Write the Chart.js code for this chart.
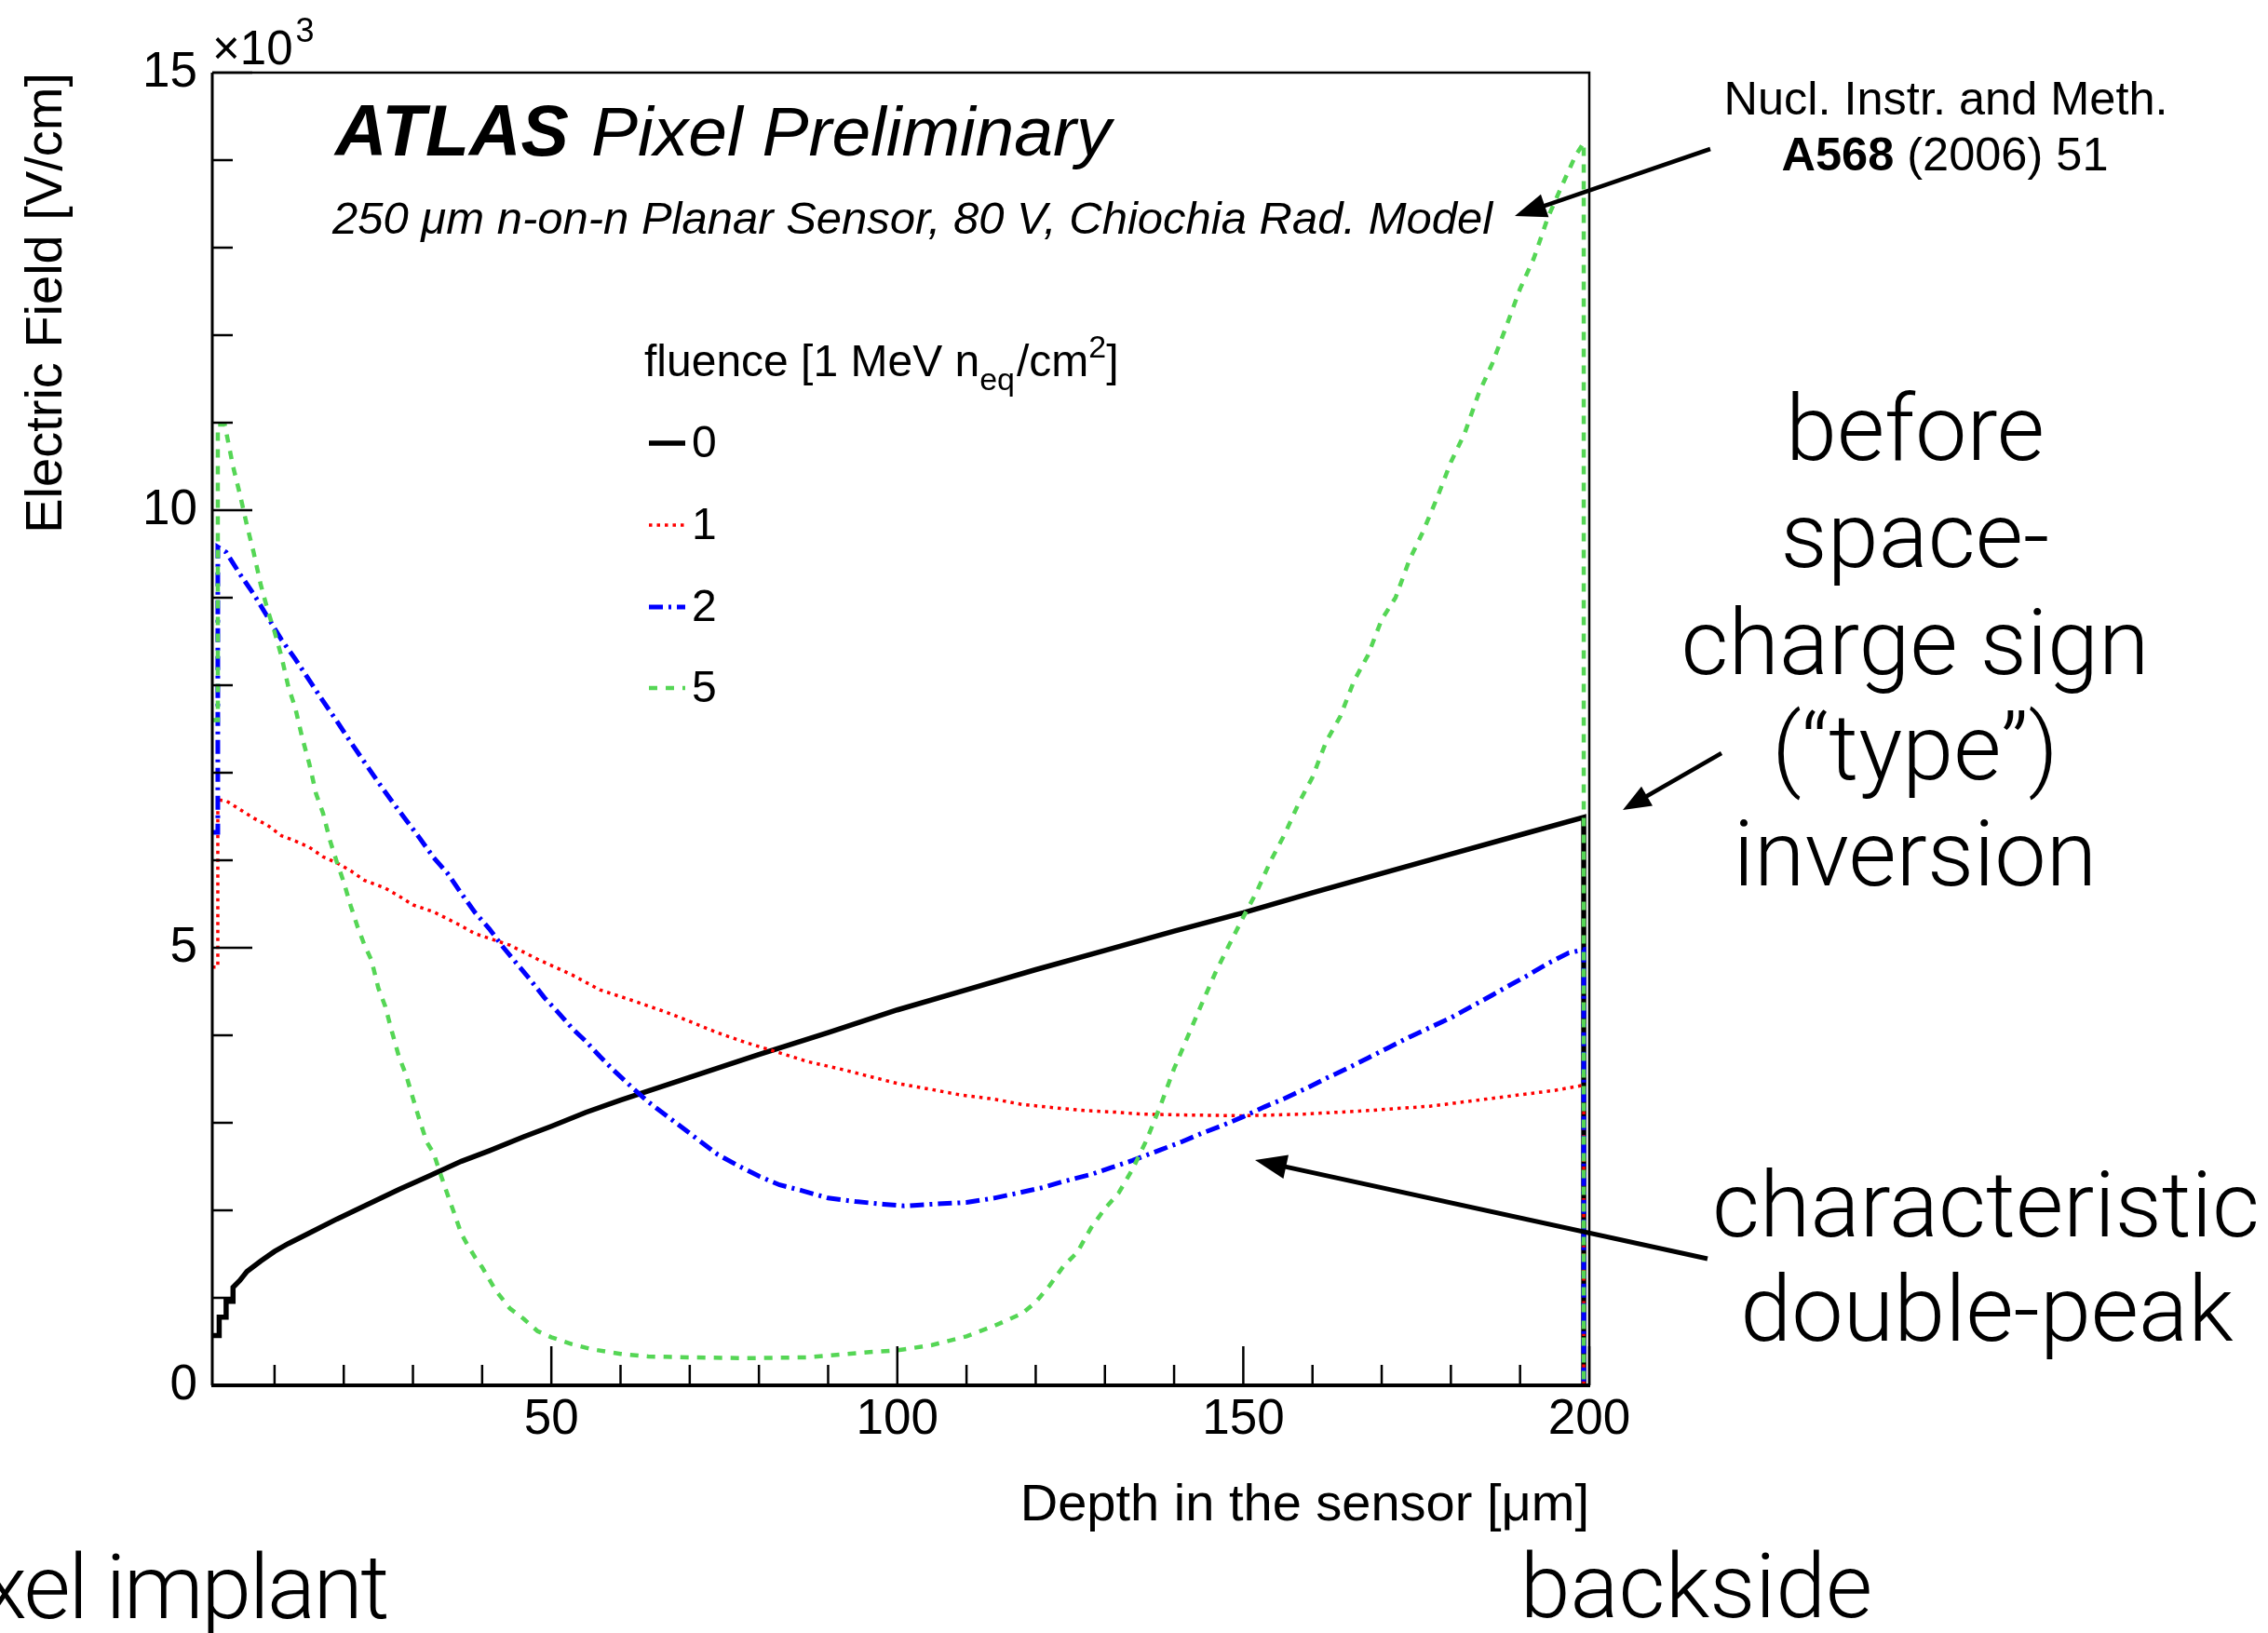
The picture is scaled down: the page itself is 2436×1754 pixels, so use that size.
<!DOCTYPE html>
<html>
<head>
<meta charset="utf-8">
<script src="https://cdn.jsdelivr.net/npm/chart.js@4.4.1/dist/chart.umd.min.js"></script>
<style>
  html, body { margin: 0; padding: 0; background: #fff; }
  canvas { display: block; }
</style>
</head>
<body>
<canvas id="efield" width="2436" height="1754"></canvas>
<script>
// depth in the sensor [um] vs electric field [10^3 V/cm]
const depth0 = [1, 2, 2, 3, 3, 4, 4, 5, 6, 8, 10, 12, 15, 19, 23, 28, 32, 37, 41, 46, 50, 55, 60, 65, 70, 80, 90, 100, 110, 120, 130, 140, 150, 160, 170, 180, 190, 199.2, 199.2];
const field0 = [0.57, 0.57, 0.78, 0.78, 0.96, 0.96, 1.12, 1.20, 1.30, 1.42, 1.53, 1.62, 1.74, 1.90, 2.05, 2.24, 2.38, 2.56, 2.68, 2.84, 2.96, 3.12, 3.26, 3.39, 3.52, 3.78, 4.03, 4.29, 4.52, 4.75, 4.97, 5.19, 5.40, 5.63, 5.85, 6.07, 6.29, 6.49, 0];

const depth1 = [1, 1.8, 1.8, 3, 5, 7, 9, 11, 13, 15, 17, 19, 21, 23, 26, 28, 30, 33, 35, 37, 39, 44, 48, 53, 57, 62, 66, 69, 74, 78, 83, 87, 92, 96, 100, 105, 109, 114, 118, 123, 127, 132, 135, 141, 150, 159, 168, 177, 186, 195, 199.2, 199.2];
const field1 = [4.78, 4.78, 6.69, 6.68, 6.58, 6.48, 6.40, 6.28, 6.22, 6.15, 6.04, 5.97, 5.88, 5.77, 5.68, 5.59, 5.49, 5.41, 5.33, 5.25, 5.16, 5.03, 4.87, 4.69, 4.52, 4.39, 4.28, 4.19, 4.03, 3.92, 3.80, 3.70, 3.61, 3.53, 3.45, 3.38, 3.32, 3.27, 3.21, 3.17, 3.14, 3.12, 3.10, 3.09, 3.08, 3.10, 3.14, 3.19, 3.28, 3.37, 3.43, 0];

const depth2 = [1, 1.8, 1.8, 3, 5, 7, 9, 11, 13, 15, 17, 19, 21, 23, 25, 27, 29, 31, 33, 35, 37, 39, 41, 43, 45, 47, 49, 51, 53, 55, 57, 59, 62, 64, 67, 70, 74, 77, 80, 83, 86, 90, 94, 98, 101, 105, 110, 114, 117, 121, 124, 128, 131, 134, 138, 141, 144, 147, 150, 153, 156, 159, 162, 165, 168, 171, 174, 177, 180, 183, 186, 188, 191, 194, 197, 199.2, 199.2];
const field2 = [6.32, 6.32, 9.58, 9.52, 9.27, 9.04, 8.78, 8.52, 8.30, 8.06, 7.82, 7.59, 7.35, 7.12, 6.89, 6.67, 6.46, 6.25, 6.03, 5.85, 5.62, 5.40, 5.22, 5.01, 4.82, 4.63, 4.43, 4.26, 4.08, 3.93, 3.76, 3.60, 3.38, 3.24, 3.06, 2.88, 2.64, 2.51, 2.39, 2.29, 2.23, 2.14, 2.10, 2.07, 2.05, 2.07, 2.09, 2.14, 2.19, 2.26, 2.33, 2.41, 2.49, 2.57, 2.69, 2.78, 2.88, 2.97, 3.07, 3.18, 3.28, 3.39, 3.51, 3.62, 3.74, 3.86, 3.98, 4.09, 4.20, 4.33, 4.46, 4.55, 4.68, 4.82, 4.94, 4.98, 0];

const depth5 = [1, 1.8, 1.8, 2.8, 4, 5, 6, 7, 8, 9, 10, 11, 12, 13, 14, 15, 16, 17, 18, 19, 20, 21, 22, 23, 24, 25, 26, 27, 28, 29, 30, 31, 32, 33, 34, 35, 36, 37, 38, 39, 40, 42, 44, 46, 48, 50, 53, 56, 60, 64, 70, 78, 87, 96, 100, 105, 110, 114, 118, 120, 122, 124, 126, 128, 130, 132, 134, 136, 138, 140, 142, 144, 146, 148, 150, 152, 154, 156, 158, 160, 162, 164, 166, 168, 170, 172, 174, 176, 178, 180, 182, 184, 186, 188, 190, 192, 194, 196, 198, 199.2, 199.2];
const field5 = [7.60, 7.60, 10.98, 10.98, 10.50, 10.18, 9.83, 9.51, 9.15, 8.86, 8.61, 8.33, 7.98, 7.74, 7.40, 7.11, 6.76, 6.54, 6.23, 5.98, 5.75, 5.48, 5.24, 5.03, 4.86, 4.54, 4.33, 4.03, 3.75, 3.55, 3.28, 3.02, 2.78, 2.65, 2.41, 2.18, 1.96, 1.73, 1.59, 1.46, 1.35, 1.08, 0.88, 0.76, 0.62, 0.55, 0.47, 0.41, 0.36, 0.33, 0.32, 0.31, 0.32, 0.38, 0.40, 0.46, 0.56, 0.68, 0.82, 0.95, 1.14, 1.36, 1.52, 1.80, 2.02, 2.20, 2.47, 2.80, 3.19, 3.62, 3.99, 4.36, 4.72, 5.04, 5.35, 5.65, 6.00, 6.30, 6.65, 6.95, 7.36, 7.64, 8.05, 8.34, 8.75, 9.00, 9.43, 9.76, 10.14, 10.55, 10.88, 11.33, 11.68, 12.10, 12.53, 12.88, 13.34, 13.70, 14.05, 14.20, 0];

const fluenceLabels = ['0', '1', '2', '5'];

// axis ticks (ROOT style: minor every 10 um / 1 kV, labels on the majors)
const xTicks = [10, 20, 30, 40, 50, 60, 70, 80, 90, 100, 110, 120, 130, 140, 150, 160, 170, 180, 190, 200];
const xLabeled = [50, 100, 150, 200];
const yTicks = [0, 1, 2, 3, 4, 5, 6, 7, 8, 9, 10, 11, 12, 13, 14, 15];
const yLabeled = [0, 5, 10, 15];

const FONT = "'Liberation Sans', Arial, Helvetica, sans-serif";
const BIG = "300 99px Roboto, 'Liberation Sans', sans-serif";
const BIG_LOW = "300 97px Roboto, 'Liberation Sans', sans-serif";

Chart.defaults.font.family = FONT;
Chart.defaults.color = '#000';

const styles = [
    { color: '#000000', width: 5.5, dash: [] },
    { color: '#ff0000', width: 3.5, dash: [3.5, 5] },
    { color: '#0000ff', width: 5, dash: [15, 6, 3, 6] },
    { color: '#55d655', width: 4.5, dash: [9, 9] }
];

function pts(xs, ys) {
    return xs.map((x, i) => ({ x: x, y: ys[i] }));
}

const seriesData = [pts(depth0, field0), pts(depth1, field1), pts(depth2, field2), pts(depth5, field5)];

const datasets = seriesData.map((d, i) => ({
    label: fluenceLabels[i],
    data: d,
    showLine: true,
    fill: false,
    tension: 0,
    pointRadius: 0,
    borderColor: styles[i].color,
    borderWidth: styles[i].width,
    borderDash: styles[i].dash,
    borderCapStyle: 'butt',
    order: 4 - i
}));

function text(ctx, s, x, y, font, align) {
    ctx.font = font;
    ctx.textAlign = align || 'left';
    ctx.textBaseline = 'alphabetic';
    ctx.fillStyle = '#000';
    ctx.fillText(s, x, y);
}

function arrow(ctx, x0, y0, x1, y1, w, headLen, headHalf) {
    const a = Math.atan2(y1 - y0, x1 - x0);
    const bx = x1 - headLen * Math.cos(a);
    const by = y1 - headLen * Math.sin(a);
    ctx.save();
    ctx.strokeStyle = '#000';
    ctx.fillStyle = '#000';
    ctx.lineWidth = w;
    ctx.setLineDash([]);
    ctx.beginPath();
    ctx.moveTo(x0, y0);
    ctx.lineTo(bx + 2 * Math.cos(a), by + 2 * Math.sin(a));
    ctx.stroke();
    ctx.beginPath();
    ctx.moveTo(x1, y1);
    ctx.lineTo(bx + headHalf * Math.sin(a), by - headHalf * Math.cos(a));
    ctx.lineTo(bx - headHalf * Math.sin(a), by + headHalf * Math.cos(a));
    ctx.closePath();
    ctx.fill();
    ctx.restore();
}

const rootFrame = {
    id: 'rootFrame',
    afterDatasetsDraw(chart) {
        const ctx = chart.ctx;
        const a = chart.chartArea;
        const xs = chart.scales.x, ys = chart.scales.y;
        ctx.save();
        ctx.strokeStyle = '#000';
        ctx.setLineDash([]);
        // frame
        ctx.lineWidth = 2.5;
        ctx.beginPath();
        ctx.moveTo(a.left, a.top); ctx.lineTo(a.right, a.top); ctx.lineTo(a.right, a.bottom);
        ctx.stroke();
        ctx.lineWidth = 3;
        ctx.beginPath();
        ctx.moveTo(a.left, a.top); ctx.lineTo(a.left, a.bottom);
        ctx.stroke();
        ctx.lineWidth = 4;
        ctx.beginPath();
        ctx.moveTo(a.left - 1, a.bottom); ctx.lineTo(a.right + 1, a.bottom);
        ctx.stroke();
        // ticks pointing inward
        ctx.lineWidth = 2.5;
        xTicks.forEach(v => {
            const px = xs.getPixelForValue(v);
            const len = xLabeled.includes(v) ? 42 : 22;
            ctx.beginPath(); ctx.moveTo(px, a.bottom); ctx.lineTo(px, a.bottom - len); ctx.stroke();
        });
        yTicks.forEach(v => {
            const py = ys.getPixelForValue(v);
            const len = yLabeled.includes(v) ? 43 : 22;
            ctx.beginPath(); ctx.moveTo(a.left, py); ctx.lineTo(a.left + len, py); ctx.stroke();
        });
        ctx.restore();
    },
    afterDraw(chart) {
        const ctx = chart.ctx;
        const a = chart.chartArea;
        ctx.save();

        // axis titles
        text(ctx, 'Depth in the sensor [\u03bcm]', a.right, 1633, '56px ' + FONT, 'right');
        ctx.save();
        ctx.translate(66, a.top);
        ctx.rotate(-Math.PI / 2);
        text(ctx, 'Electric Field [V/cm]', 0, 0, '56px ' + FONT, 'right');
        ctx.restore();

        // x10^3
        text(ctx, '\u00d710', a.left, 69, '51px ' + FONT, 'left');
        ctx.font = '51px ' + FONT;
        const w10 = ctx.measureText('\u00d710').width;
        text(ctx, '3', a.left + w10 + 3, 45, '36px ' + FONT, 'left');

        // ATLAS label
        text(ctx, 'ATLAS', 360, 167, 'italic bold 77px ' + FONT, 'left');
        text(ctx, 'Pixel Preliminary', 635, 167, 'italic 75px ' + FONT, 'left');
        text(ctx, '250 \u03bcm n-on-n Planar Sensor, 80 V, Chiochia Rad. Model', 357, 251, 'italic 49px ' + FONT, 'left');

        // legend
        let lx = 692;
        const hy = 404;
        const parts = [
            ['fluence [1 MeV n', '48px ', 0],
            ['eq', '34px ', 15],
            ['/cm', '48px ', 0],
            ['2', '34px ', -20],
            [']', '48px ', 0]
        ];
        parts.forEach(p => {
            text(ctx, p[0], lx, hy + p[2], p[1] + FONT, 'left');
            ctx.font = p[1] + FONT;
            lx += ctx.measureText(p[0]).width + (p[0] === 'eq' ? 2 : 0);
        });
        const rowY = [476, 564, 652, 739];
        fluenceLabels.forEach((lab, i) => {
            const st = styles[i];
            ctx.save();
            ctx.strokeStyle = st.color;
            ctx.lineWidth = st.width;
            ctx.setLineDash(st.dash);
            ctx.beginPath();
            ctx.moveTo(697, rowY[i]);
            ctx.lineTo(736, rowY[i]);
            ctx.stroke();
            ctx.restore();
            ctx.font = '48px ' + FONT;
            ctx.textAlign = 'left';
            ctx.textBaseline = 'middle';
            ctx.fillStyle = '#000';
            ctx.fillText(lab, 743, rowY[i] + 2);
        });

        // reference
        text(ctx, 'Nucl. Instr. and Meth.', 2090, 123, '50.5px ' + FONT, 'center');
        ctx.font = 'bold 50.5px ' + FONT;
        const wA = ctx.measureText('A568').width;
        ctx.font = '50.5px ' + FONT;
        const wB = ctx.measureText(' (2006) 51').width;
        const sx = 2089 - (wA + wB) / 2;
        text(ctx, 'A568', sx, 183, 'bold 50.5px ' + FONT, 'left');
        text(ctx, ' (2006) 51', sx + wA, 183, '50.5px ' + FONT, 'left');
        arrow(ctx, 1837, 160, 1627, 232, 4.5, 34, 13);

        // annotations
        const cx = 2057;
        text(ctx, 'before', cx, 494, BIG, 'center');
        text(ctx, 'space-', cx, 609, BIG, 'center');
        text(ctx, 'charge sign', cx, 724, BIG, 'center');
        text(ctx, '(\u201ctype\u201d)', cx, 837, BIG, 'center');
        text(ctx, 'inversion', cx, 951, BIG, 'center');
        arrow(ctx, 1849, 809, 1743, 870, 4.5, 30, 12);

        text(ctx, 'characteristic', 2133, 1328, BIG, 'center');
        text(ctx, 'double-peak', 2134, 1440, BIG, 'center');
        arrow(ctx, 1834, 1352, 1348, 1246, 5, 34, 13);

        ctx.save();
        ctx.letterSpacing = '-2.5px';
        text(ctx, 'pixel implant', 416, 1738, BIG_LOW, 'right');
        ctx.restore();
        text(ctx, 'backside', 1822, 1737, BIG_LOW, 'center');

        ctx.restore();
    }
};

const chart = new Chart(document.getElementById('efield'), {
    type: 'scatter',
    data: { datasets: datasets },
    options: {
        responsive: false,
        animation: false,
        devicePixelRatio: 1,
        layout: { padding: { left: 0, top: 78, right: 729, bottom: 0 } },
        plugins: { legend: { display: false }, tooltip: { enabled: false } },
        scales: {
            x: {
                type: 'linear',
                min: 1,
                max: 200,
                afterFit: s => { s.height = 266; },
                afterBuildTicks: s => { s.ticks = xTicks.map(v => ({ value: v })); },
                grid: { display: false, drawTicks: false },
                border: { display: false },
                ticks: {
                    autoSkip: false,
                    maxRotation: 0,
                    padding: 6,
                    color: '#000',
                    font: { size: 53 },
                    callback: v => xLabeled.includes(v) ? String(v) : ''
                }
            },
            y: {
                type: 'linear',
                min: 0,
                max: 15,
                afterFit: s => { s.width = 228; },
                afterBuildTicks: s => { s.ticks = yTicks.map(v => ({ value: v })); },
                grid: { display: false, drawTicks: false },
                border: { display: false },
                ticks: {
                    autoSkip: false,
                    padding: 16,
                    color: '#000',
                    font: { size: 53 },
                    callback: v => yLabeled.includes(v) ? String(v) : ''
                }
            }
        }
    },
    plugins: [rootFrame]
});
</script>
</body>
</html>
